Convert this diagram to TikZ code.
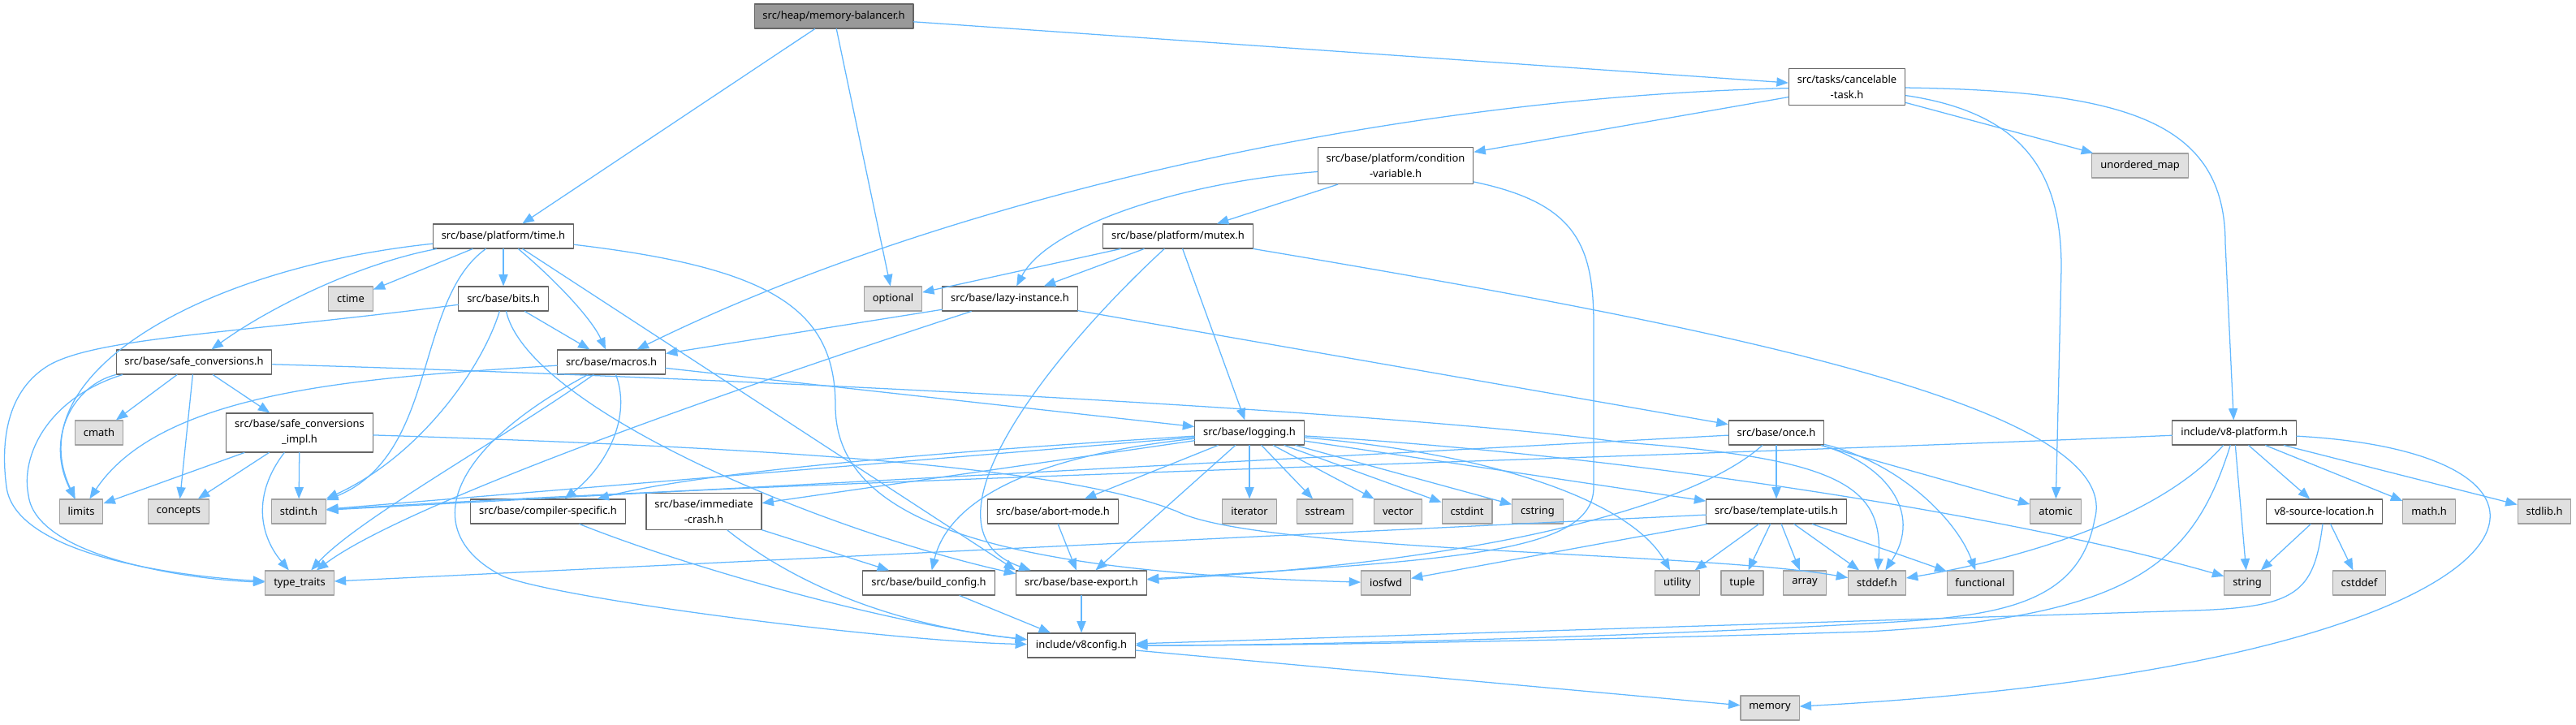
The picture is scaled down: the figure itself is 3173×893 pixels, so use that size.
\documentclass[tikz,border=0pt]{standalone}
\usepackage{fontspec}
\setmainfont{Noto Sans}
\usetikzlibrary{arrows.meta}
\definecolor{edgeblue}{RGB}{99,184,255}
\definecolor{boxgray}{RGB}{102,102,102}
\definecolor{sysgray}{RGB}{160,160,160}
\definecolor{sysfill}{RGB}{224,224,224}
\definecolor{rootfill}{RGB}{153,153,153}
\tikzset{
  every node/.style={font=\fontsize{9.2}{13.5}\selectfont},
  file/.style={rectangle, draw=boxgray, fill=white, line width=0.8pt,
    inner xsep=0.26cm, inner ysep=0.2cm, minimum height=0.75cm, align=center},
  root file/.style={file, fill=rootfill},
  sys file/.style={file, draw=sysgray, fill=sysfill},
  dep/.style={draw=edgeblue, line width=0.9pt,
    -{Triangle[length=0.36cm,width=0.28cm]}}
}

\begin{document}
\begin{tikzpicture}[x=0.025cm, y=-0.025cm, line cap=round, line join=round]
  \useasboundingbox (0,0) rectangle (3173,893);

  % project headers
  \node[root file] (mb) at (1027,20) {src/heap/memory-balancer.h};
  \node[file] (cancel) at (2275,107) {src/tasks/cancelable\\-task.h};
  \node[file] (condvar) at (1719,204) {src/base/platform/condition\\-variable.h};
  \node[file] (time) at (620,291) {src/base/platform/time.h};
  \node[file] (mutex) at (1451,291) {src/base/platform/mutex.h};
  \node[file] (bits) at (620,368) {src/base/bits.h};
  \node[file] (lazy) at (1244,368) {src/base/lazy-instance.h};
  \node[file] (safeconv) at (239,446) {src/base/safe\_conversions.h};
  \node[file] (macros) at (753,446) {src/base/macros.h};
  \node[file] (impl) at (369,533) {src/base/safe\_conversions\\\_impl.h};
  \node[file] (logging) at (1539,533) {src/base/logging.h};
  \node[file] (once) at (2188,533) {src/base/once.h};
  \node[file] (v8platform) at (2752,533) {include/v8-platform.h};
  \node[file] (compspec) at (675,630) {src/base/compiler-specific.h};
  \node[file] (immcrash) at (867,630) {src/base/immediate\\-crash.h};
  \node[file] (abort) at (1297,630) {src/base/abort-mode.h};
  \node[file] (tmplutils) at (2188,630) {src/base/template-utils.h};
  \node[file] (v8srcloc) at (2863,630) {v8-source-location.h};
  \node[file] (buildcfg) at (1144,718) {src/base/build\_config.h};
  \node[file] (baseexport) at (1332,718) {src/base/base-export.h};
  \node[file] (v8config) at (1332,795) {include/v8config.h};

  % system headers
  \node[sys file] (unordered) at (2636,204) {unordered\_map};
  \node[sys file] (ctime) at (432,368) {ctime};
  \node[sys file] (optional) at (1100,368) {optional};
  \node[sys file] (cmath) at (122,533) {cmath};
  \node[sys file] (limits) at (100,630) {limits};
  \node[sys file] (concepts) at (220,630) {concepts};
  \node[sys file] (stdint) at (368,630) {stdint.h};
  \node[sys file] (iterator) at (1539,630) {iterator};
  \node[sys file] (sstream) at (1632,630) {sstream};
  \node[sys file] (vector) at (1722,630) {vector};
  \node[sys file] (cstdint) at (1807,630) {cstdint};
  \node[sys file] (cstring) at (1894,630) {cstring};
  \node[sys file] (atomic) at (2532,630) {atomic};
  \node[sys file] (mathh) at (2992,630) {math.h};
  \node[sys file] (stdlib) at (3134,630) {stdlib.h};
  \node[sys file] (typetraits) at (369,718) {type\_traits};
  \node[sys file] (iosfwd) at (1707,718) {iosfwd};
  \node[sys file] (utility) at (2066,718) {utility};
  \node[sys file] (tuple) at (2146,718) {tuple};
  \node[sys file] (array) at (2223,718) {array};
  \node[sys file] (stddef) at (2312,718) {stddef.h};
  \node[sys file] (functional) at (2439,718) {functional};
  \node[sys file] (string) at (2768,718) {string};
  \node[sys file] (cstddef) at (2906,718) {cstddef};
  \node[sys file] (memory) at (2180,872) {memory};

  % straight includes
  \foreach \src/\dst in {mb/time, mb/optional, mb/cancel,
      cancel/condvar, cancel/unordered, condvar/mutex,
      mutex/optional, mutex/lazy, mutex/logging, lazy/macros, lazy/once,
      time/ctime, time/bits, bits/macros,
      safeconv/cmath, safeconv/concepts, safeconv/impl,
      impl/limits, impl/concepts, impl/stdint, macros/logging,
      logging/stdint, logging/immcrash, logging/abort, logging/baseexport,
      logging/iterator, logging/sstream, logging/vector, logging/cstdint,
      logging/cstring, logging/tmplutils,
      once/stdint, once/tmplutils, once/atomic,
      tmplutils/utility, tmplutils/tuple, tmplutils/array, tmplutils/stddef,
      tmplutils/functional, tmplutils/iosfwd, tmplutils/typetraits,
      immcrash/buildcfg, buildcfg/v8config, baseexport/v8config, abort/baseexport,
      v8platform/string, v8platform/v8srcloc, v8platform/mathh, v8platform/stdlib,
      v8srcloc/string, v8srcloc/cstddef, v8config/memory}
    \draw[dep] (\src) -- (\dst);

  % curved includes
  \draw[dep] (cancel) .. controls (1700,120) and (1150,250) .. (macros);
  \draw[dep] (cancel) .. controls (2500,140) and (2539,220) .. (2539,330) -- (atomic);
  \draw[dep] (cancel) .. controls (2620,112) and (2741,150) .. (2741,300) -- (v8platform);
  \draw[dep] (condvar) .. controls (1450,225) and (1290,280) .. (lazy);
  \draw[dep] (condvar) .. controls (1940,250) and (1963,300) .. (1963,400) -- (1963,600)
    .. controls (1963,680) and (1800,690) .. (baseexport);
  \draw[dep] (mutex) .. controls (1300,430) and (1120,650) .. (baseexport.166);
  \draw[dep] (mutex) .. controls (2100,400) and (2620,500) .. (2580,640)
    .. controls (2560,750) and (2450,760) .. (2300,768)
    .. controls (2000,785) and (1600,795) .. (v8config);
  \draw[dep] (lazy) .. controls (900,480) and (500,620) .. (typetraits);

  \draw[dep] (macros) .. controls (450,465) and (200,480) .. (limits);
  \draw[dep] (macros) .. controls (620,540) and (440,640) .. (typetraits);
  \draw[dep] (macros) .. controls (540,560) and (520,660) .. (620,710)
    .. controls (700,740) and (1100,790) .. (v8config);
  \draw[dep] (macros) .. controls (780,520) and (740,580) .. (compspec);

  \draw[dep] (time) .. controls (250,330) and (20,460) .. (limits);
  \draw[dep] (time) .. controls (440,325) and (330,380) .. (safeconv);
  \draw[dep] (time) .. controls (510,370) and (540,560) .. (stdint);
  \draw[dep] (time) .. controls (690,350) and (730,395) .. (macros);
  \draw[dep] (time) -- (baseexport.north west);
  \draw[dep] (time) .. controls (950,330) and (1029,380) .. (1029,500)
    .. controls (1029,650) and (1250,705) .. (iosfwd);

  \draw[dep] (bits) .. controls (300,410) and (120,415) .. (60,450)
    .. controls (10,480) and (0,540) .. (8,600)
    .. controls (20,690) and (250,712) .. (typetraits);
  \draw[dep] (bits) .. controls (595,450) and (520,560) .. (stdint);
  \draw[dep] (bits) .. controls (650,500) and (1000,650) .. (baseexport.172);

  \draw[dep] (safeconv.south west) .. controls (90,475) and (55,540) .. (limits);
  \draw[dep] (safeconv.190) .. controls (60,490) and (25,560) .. (35,610)
    .. controls (45,690) and (250,715) .. (typetraits);
  \draw[dep] (safeconv) .. controls (900,465) and (1700,505) .. (2000,545)
    .. controls (2270,565) and (2320,600) .. (stddef);
  \draw[dep] (impl) .. controls (310,610) and (320,660) .. (typetraits);
  \draw[dep] (impl) .. controls (900,550) and (1300,570) .. (1450,630)
    .. controls (1550,680) and (2100,680) .. (stddef);

  \draw[dep] (logging) .. controls (1100,560) and (850,585) .. (compspec);
  \draw[dep] (logging) .. controls (1240,565) and (1165,630) .. (buildcfg);
  \draw[dep] (logging) .. controls (1850,560) and (2010,620) .. (utility);
  \draw[dep] (logging) .. controls (2000,560) and (2480,635) .. (string);

  \draw[dep] (once) .. controls (2320,570) and (2370,630) .. (stddef);
  \draw[dep] (once) .. controls (2340,570) and (2410,640) .. (functional);
  \draw[dep] (once) .. controls (2080,630) and (1800,695) .. (baseexport);

  \draw[dep] (v8platform) .. controls (2000,565) and (1000,590) .. (stdint);
  \draw[dep] (v8platform) .. controls (2650,650) and (2450,695) .. (stddef);
  \draw[dep] (v8platform) .. controls (2700,700) and (2620,760) .. (2300,778)
    .. controls (1900,790) and (1600,795) .. (v8config);
  \draw[dep] (v8platform) .. controls (3250,560) and (3150,820) .. (memory);
  \draw[dep] (v8srcloc) .. controls (2850,730) and (2830,748) .. (2700,752) -- (v8config);
  \draw[dep] (immcrash) .. controls (980,720) and (1100,770) .. (v8config);
  \draw[dep] (compspec) .. controls (850,700) and (1100,770) .. (v8config);
\end{tikzpicture}
\end{document}
